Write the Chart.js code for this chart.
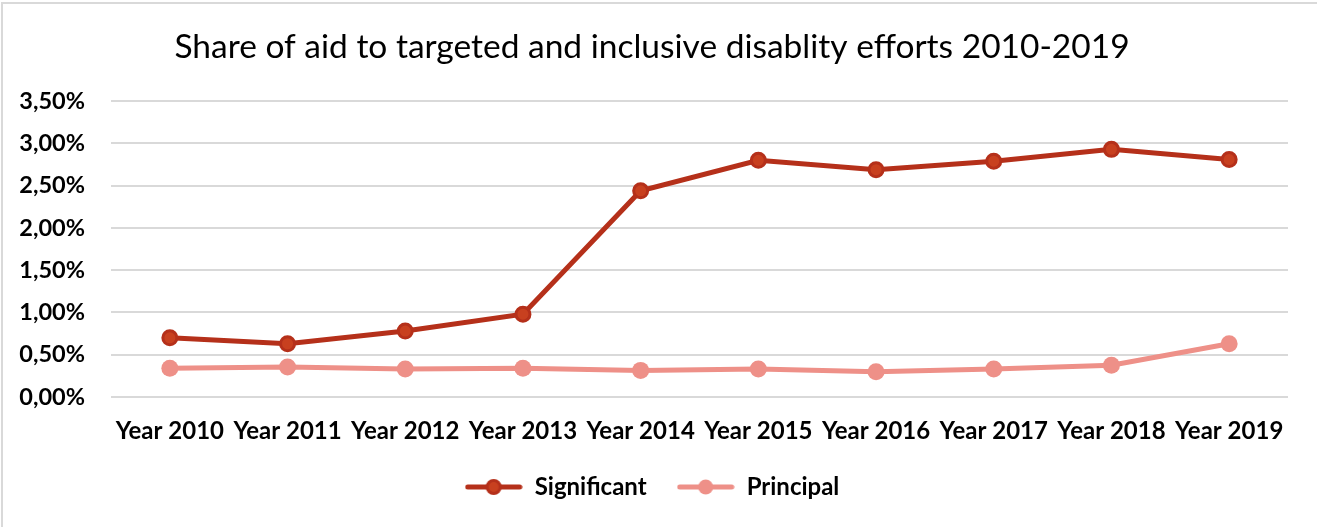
<!DOCTYPE html>
<html>
<head>
<meta charset="utf-8">
<script src="https://cdn.jsdelivr.net/npm/chart.js@4.4.1/dist/chart.umd.min.js"></script>
<style>
  html, body { margin: 0; padding: 0; background: #fff; overflow: hidden; }
  #wrap { position: relative; width: 1317px; height: 527px; }
  #frame { position: absolute; left: 1px; top: 2px; width: 1340px; height: 540px; border: 2px solid #d9d9d9; box-sizing: border-box; pointer-events: none; }
</style>
</head>
<body>
<div id="wrap">
  <canvas id="chart" width="1317" height="527"></canvas>
  <div id="frame"></div>
</div>
<script>
const years = ['Year 2010', 'Year 2011', 'Year 2012', 'Year 2013', 'Year 2014',
  'Year 2015', 'Year 2016', 'Year 2017', 'Year 2018', 'Year 2019'];
// shares in percent
const significant = [0.70, 0.63, 0.78, 0.98, 2.44, 2.80, 2.69, 2.79, 2.93, 2.81];
const principal = [0.34, 0.355, 0.33, 0.34, 0.315, 0.33, 0.30, 0.33, 0.375, 0.63];
const yTicks = [0, 0.5, 1, 1.5, 2, 2.5, 3, 3.5];

const sigLine = '#b5301a';
const sigFill = '#c8401f';
const priLine = '#ee9088';

function legendIcon(line, fill, border) {
  const c = document.createElement('canvas');
  c.width = 58;
  c.height = 18;
  const ctx = c.getContext('2d');
  ctx.strokeStyle = line;
  ctx.lineWidth = 5;
  ctx.lineCap = 'round';
  ctx.beginPath();
  ctx.moveTo(3, 9);
  ctx.lineTo(55, 9);
  ctx.stroke();
  ctx.beginPath();
  ctx.arc(29, 9, border ? 6.5 : 7.5, 0, Math.PI * 2);
  ctx.fillStyle = fill;
  ctx.fill();
  if (border) {
    ctx.lineWidth = 3;
    ctx.strokeStyle = border;
    ctx.stroke();
  }
  return c;
}

const sigIcon = legendIcon(sigLine, sigFill, sigLine);
const priIcon = legendIcon(priLine, priLine, null);

const chart = new Chart(document.getElementById('chart'), {
  type: 'line',
  data: {
    labels: years,
    datasets: [{
      label: 'Significant',
      data: significant,
      borderColor: sigLine,
      borderWidth: 5,
      pointRadius: 7,
      pointBorderWidth: 3,
      pointBackgroundColor: sigFill,
      pointBorderColor: sigLine,
      tension: 0
    }, {
      label: 'Principal',
      data: principal,
      borderColor: priLine,
      borderWidth: 5,
      pointRadius: 8.5,
      pointBorderWidth: 0,
      pointBackgroundColor: priLine,
      pointBorderColor: priLine,
      tension: 0
    }]
  },
  options: {
    responsive: false,
    animation: false,
    layout: { padding: { left: 16, right: 29, top: 0, bottom: 18 } },
    plugins: {
      tooltip: { enabled: false },
      title: {
        display: true,
        text: 'Share of aid to targeted and inclusive disablity efforts 2010-2019',
        color: '#000',
        font: { family: 'Lato', size: 33.5, weight: 'normal' },
        padding: { top: 27, bottom: 34 }
      },
      legend: {
        position: 'bottom',
        labels: {
          color: '#000',
          font: { family: 'Lato', size: 24, weight: 'bold' },
          usePointStyle: true,
          pointStyleWidth: 58,
          padding: 30,
          generateLabels: () => [
            { text: 'Significant', pointStyle: sigIcon, datasetIndex: 0, lineWidth: 0, fontColor: '#000' },
            { text: 'Principal', pointStyle: priIcon, datasetIndex: 1, lineWidth: 0, fontColor: '#000' }
          ]
        }
      }
    },
    scales: {
      x: {
        offset: true,
        grid: { display: false, drawTicks: false },
        border: { display: false },
        ticks: {
          color: '#000',
          font: { family: 'Lato', size: 24, weight: 'bold' },
          padding: 20,
          maxRotation: 0,
          autoSkip: false
        },
        afterFit: s => { s.height = 48; }
      },
      y: {
        min: 0,
        max: 3.5,
        afterBuildTicks: s => { s.ticks = yTicks.map(v => ({ value: v })); },
        grid: { color: '#d9d9d9', lineWidth: 2, drawTicks: false },
        border: { display: false },
        ticks: {
          color: '#000',
          font: { family: 'Lato', size: 23.5, weight: 'bold' },
          padding: 26,
          callback: v => v.toFixed(2).replace('.', ',') + '%'
        },
        afterFit: s => { s.width = 95; }
      }
    }
  }
});
</script>
</body>
</html>
